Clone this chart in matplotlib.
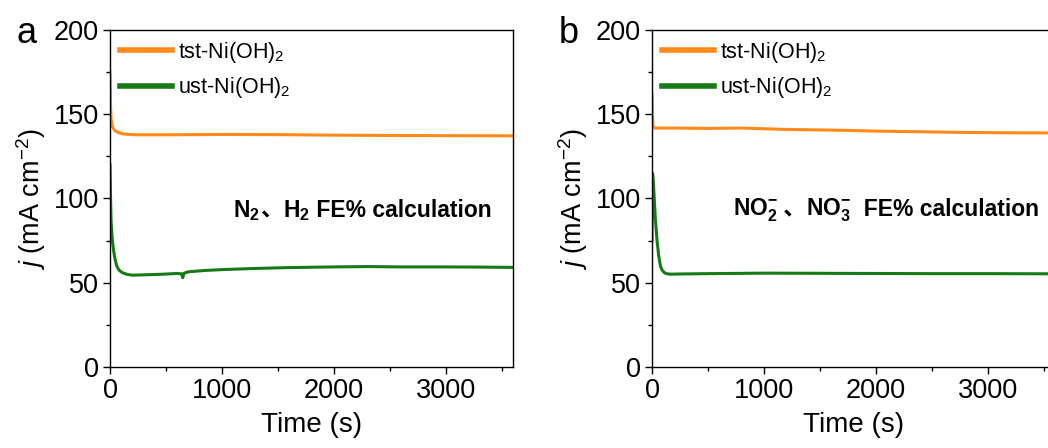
import matplotlib
matplotlib.use('Agg')
import matplotlib.pyplot as plt
from matplotlib.ticker import MultipleLocator
from matplotlib.offsetbox import TextArea, HPacker, AnchoredOffsetbox
import numpy as np

plt.rcParams['font.family'] = ['Liberation Sans', 'Noto Sans CJK SC', 'DejaVu Sans']
plt.rcParams['mathtext.fontset'] = 'custom'
plt.rcParams['mathtext.rm'] = 'Liberation Sans'
plt.rcParams['mathtext.it'] = 'Liberation Sans:italic'
plt.rcParams['mathtext.bf'] = 'Liberation Sans:bold'

# ---- data ----
# panel a
t_a_tst = [0, 5, 10, 20, 35, 50, 80, 120, 170, 250, 500, 1000, 1500, 2000, 2500, 3000, 3600]
j_a_tst = [175, 155, 147, 143, 141, 140, 139, 138.3, 138, 137.8, 137.8, 138, 137.9, 137.6, 137.4, 137.3, 137.2]
t_a_ust = [0, 5, 10, 20, 30, 45, 60, 80, 110, 150, 200, 300, 450, 600, 640, 650, 660, 700, 850,
           1000, 1300, 1600, 2000, 2300, 2600, 3000, 3300, 3600]
j_a_ust = [120, 100, 86, 76, 70, 64, 60, 57.5, 56, 55, 54.5, 54.7, 55, 55.5, 55.3, 53, 55.6, 56.5, 57.3,
           57.8, 58.5, 59, 59.4, 59.6, 59.4, 59.4, 59.3, 59.1]
# panel b
t_b_tst = [0, 3, 6, 10, 15, 30, 200, 500, 800, 1200, 1600, 2000, 2400, 2800, 3200, 3600]
j_b_tst = [162, 152, 146, 143, 142, 141.8, 141.8, 141.6, 141.8, 141, 140.6, 140, 139.6, 139.2, 139, 138.9]
t_b_ust = [0, 5, 10, 20, 30, 45, 60, 75, 90, 110, 130, 160, 250, 500, 1000, 1500, 2000, 2500, 3000, 3600]
j_b_ust = [75, 115, 112, 100, 88, 75, 66, 60, 57.5, 56, 55.4, 55.1, 55.2, 55.4, 55.7, 55.6, 55.5, 55.4, 55.4, 55.3]

labels = ['tst-Ni(OH)$_2$', 'ust-Ni(OH)$_2$']
c_tst = '#ff8a1a'
c_ust = '#167a16'

note_a = [('$\\mathbf{N_2}$', 'm'), ('、', 'c'), ('$\\mathbf{H_2}$', 'm'), (' FE% calculation', 't')]
note_b = [('$\\mathbf{NO_2^{-}}$', 'm'), (' 、', 'c'), ('$\\mathbf{NO_3^{-}}$', 'm'), ('  FE% calculation', 't')]

fig = plt.figure(figsize=(10.48, 4.48), dpi=100)
ax_a = fig.add_axes([110/1048, 81/448, 403/1048, 337/448])
ax_b = fig.add_axes([652/1048, 81/448, 403/1048, 337/448])

def style(ax):
    ax.set_xlim(0, 3600)
    ax.set_ylim(0, 200)
    ax.xaxis.set_major_locator(MultipleLocator(1000))
    ax.xaxis.set_minor_locator(MultipleLocator(500))
    ax.yaxis.set_major_locator(MultipleLocator(50))
    ax.yaxis.set_minor_locator(MultipleLocator(25))
    ax.tick_params(which='major', direction='out', length=5, width=1, labelsize=19.5, pad=3)
    ax.tick_params(which='minor', direction='out', length=3, width=1)
    ax.set_xlabel('Time (s)', fontsize=20, labelpad=6)
    ax.set_ylabel('$j$ (mA cm$^{-2}$)', fontsize=19.5, labelpad=4)
    for s in ax.spines.values():
        s.set_linewidth(1)

def note(ax, pieces, x, y):
    boxes = []
    for txt, kind in pieces:
        if kind == 'c':
            props = dict(fontsize=16.5, fontweight='bold', family=['Noto Sans CJK SC'])
        else:
            props = dict(fontsize=16.5, fontweight='bold')
        boxes.append(TextArea(txt, textprops=props))
    pack = HPacker(children=boxes, align='baseline', pad=0, sep=0)
    ab = AnchoredOffsetbox(loc='center left', child=pack, frameon=False,
                           bbox_to_anchor=(x, y), bbox_transform=ax.transData, pad=0, borderpad=0)
    ax.add_artist(ab)

for ax, tt, jt, tu, ju, pieces, nx in [
        (ax_a, t_a_tst, j_a_tst, t_a_ust, j_a_ust, note_a, 1100),
        (ax_b, t_b_tst, j_b_tst, t_b_ust, j_b_ust, note_b, 720)]:
    ax.plot(tt, jt, color=c_tst, lw=2.2, label=labels[0])
    ax.plot(tu, ju, color=c_ust, lw=2.2, label=labels[1])
    style(ax)
    leg = ax.legend(loc='upper left', frameon=False, fontsize=15.5, handlelength=2.45,
                    handletextpad=0.25, borderaxespad=0.3, labelspacing=0.5, borderpad=0.15)
    for h in leg.get_lines():
        h.set_linewidth(4)
    note(ax, pieces, nx, 93)

fig.text(17/1048, 1 - 43/448, 'a', fontsize=26, va='baseline')
fig.text(559/1048, 1 - 43/448, 'b', fontsize=26, va='baseline')

fig.savefig('out.png', dpi=100)
